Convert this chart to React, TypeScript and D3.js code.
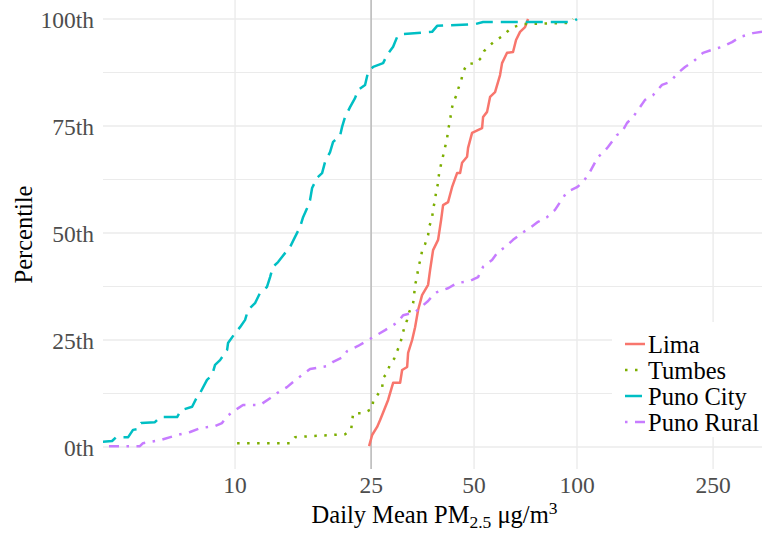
import React from "react";
import * as d3 from "d3";

// ---- data (PM2.5 value, percentile) ----
const limaPts: [number, number][] = [
  [24.66, 0.2], [25.17, 2.8], [26.03, 4.7], [26.56, 6.3], [28.03, 11.0], [28.99, 15.0], [30.39, 15.0],
  [30.8, 18.0], [31.86, 18.7], [32.07, 22.0], [32.95, 25.0], [33.61, 28.0], [34.3, 32.0], [35.23, 35.5],
  [36.69, 37.9], [37.19, 41.4], [37.94, 46.0], [39.24, 48.4], [40.04, 53.0], [40.58, 56.5], [41.97, 57.2],
  [43.11, 60.7], [44.59, 64.0], [45.51, 64.0], [46.12, 66.4], [47.69, 67.8], [48.02, 69.9], [49.33, 73.4],
  [52.77, 74.5], [53.13, 77.1], [54.57, 78.3], [55.69, 81.8], [57.59, 82.9], [59.56, 86.9], [60.37, 89.7],
  [62.43, 92.1], [65.0, 92.3], [66.33, 95.1], [68.14, 97.0], [70.48, 98.1], [71.92, 100],
];
const tumbesPts: [number, number][] = [
  [10.14, 0.9], [14.48, 0.9], [14.98, 2.3], [20.99, 3.0], [21.85, 4.0], [22.15, 7.9], [23.69, 7.9],
  [25.17, 8.9], [25.34, 10.7], [26.21, 12.4], [26.92, 13.8], [27.1, 16.1], [27.84, 17.3], [28.41, 19.4],
  [29.19, 20.6], [29.78, 22.4], [30.39, 24.1], [30.8, 25.9], [31.22, 27.8], [31.86, 29.7], [32.29, 31.5],
  [33.17, 33.6], [33.39, 35.5], [33.61, 37.9], [34.07, 39.7], [34.3, 41.8], [34.77, 43.5], [35.23, 45.8],
  [35.95, 47.4], [36.69, 49.5], [36.94, 51.4], [37.69, 53.5], [37.94, 55.6], [38.46, 57.7], [38.72, 59.6],
  [39.24, 61.7], [39.51, 64.0], [40.04, 66.1], [40.58, 68.0], [41.14, 70.1], [41.69, 72.0], [41.97, 74.1],
  [42.55, 76.2], [42.83, 78.3], [43.41, 80.4], [44.3, 82.0], [44.89, 83.6], [45.81, 85.5], [46.43, 87.6],
  [47.69, 89.5], [50.68, 89.7], [52.42, 90.9], [53.48, 92.5], [55.31, 93.7], [57.59, 94.9], [59.97, 95.8],
  [62.43, 97.0], [65.0, 98.1], [69.54, 98.8], [95.39, 99.1], [97.34, 100],
];
const punoCityPts: [number, number][] = [
  [4.03, 1.2], [4.37, 1.4], [4.49, 2.3], [4.87, 2.3], [5.03, 4.0], [5.2, 4.2], [5.31, 5.6], [5.83, 5.8],
  [6.04, 7.0], [6.77, 7.0], [6.95, 8.6], [7.49, 9.4], [7.74, 11.7], [7.9, 12.6],
  [8.28, 15.7], [8.57, 16.8], [8.74, 19.2], [9.04, 20.3], [9.48, 22.7], [9.54, 24.3], [10.0, 26.6],
  [10.34, 28.0], [10.7, 29.7], [10.91, 32.0], [11.44, 33.6], [11.83, 36.0], [12.4, 37.4], [12.66, 39.7],
  [12.91, 42.1], [13.36, 43.2], [14.0, 45.3], [14.48, 46.7], [14.98, 49.1], [15.49, 51.4], [15.81, 53.7],
  [16.24, 55.8], [16.57, 57.7], [16.8, 60.5], [17.37, 62.9], [17.97, 64.0], [18.33, 66.6], [18.96, 68.9],
  [19.35, 71.3], [20.28, 72.7], [20.56, 74.8], [20.97, 77.1], [21.69, 79.4], [22.43, 81.5], [22.89, 83.4],
  [24.0, 84.6], [24.49, 87.6], [25.34, 88.8], [27.1, 89.7], [27.84, 91.6], [28.99, 93.5], [29.78, 95.8],
  [31.01, 96.5], [37.69, 97.0], [38.99, 98.4], [50.34, 98.8], [53.13, 99.3], [97.3, 99.3], [100, 100],
];
const punoRuralPts: [number, number][] = [
  [4.0, 0.2], [5.27, 0.2], [5.38, 0.9], [6.04, 1.6], [6.77, 2.8], [7.39, 3.5], [7.9, 4.4], [8.74, 4.9],
  [9.16, 5.6], [9.48, 7.2], [10.14, 8.9], [10.55, 9.8], [11.83, 9.8], [12.66, 11.4], [13.27, 12.6],
  [14.19, 14.0], [14.78, 15.2], [15.7, 16.8], [16.57, 18.2], [18.58, 18.9], [19.35, 19.9], [20.69, 21.0],
  [21.26, 22.4], [22.89, 23.6], [24.5, 25.0], [26.03, 26.2], [27.47, 27.3], [29.98, 29.2], [31.01, 30.8],
  [33.61, 31.5], [35.23, 32.9], [36.69, 34.1], [37.94, 35.5], [38.98, 36.2], [41.97, 37.1], [44.59, 38.3],
  [48.67, 38.8], [51.37, 39.7], [53.13, 42.1], [56.44, 43.7], [58.76, 45.6], [61.6, 46.7], [65.0, 48.4],
  [69.07, 50.0], [72.89, 51.2], [76.92, 52.6], [81.72, 53.7], [86.23, 55.4], [89.18, 57.2], [93.49, 59.6],
  [100, 60.7], [104.13, 61.9], [109.14, 64.3], [115.19, 67.8], [119.12, 68.7], [123.2, 70.1],
  [130.89, 72.9], [135.37, 73.6], [140.01, 75.7], [145.77, 77.1], [152.84, 79.4], [158.06, 81.1],
  [166.83, 82.2], [177.22, 84.6], [187.06, 85.3], [197.39, 87.4], [206.94, 88.8], [218.37, 90.0],
  [233.57, 92.1], [248.1, 92.8], [265.46, 93.5], [283.95, 94.6], [299.66, 95.8], [327.05, 96.7],
  [347.47, 97.0], [380, 98.2], [450, 100],
];

const seriesNames = ["Lima", "Tumbes", "Puno City", "Puno Rural"];
const seriesColors = ["#F8766D", "#7CAE00", "#00BFC4", "#C77CFF"];
const seriesDash = ["", "2.5 7.5", "17 8", "2.5 7.5 10 7.5"];
const seriesData = [limaPts, tumbesPts, punoCityPts, punoRuralPts];

const xTicks = [10, 25, 50, 100, 250];
const yTicks = [0, 25, 50, 75, 100];
const yTickLabels = ["0th", "25th", "50th", "75th", "100th"];
const yMinor = [12.5, 37.5, 62.5, 87.5];
const refLine = 25;

const W = 762;
const H = 534;
const panel = { left: 103, right: 762, top: 0, bottom: 469 };
const FONT = "'Liberation Serif', 'Times New Roman', serif";

export default function App() {
  const x = d3.scaleLog().domain([4.11, 347.5]).range([panel.left, panel.right]);
  const y = d3.scaleLinear().domain([0, 100]).range([447, 19]);
  const line = d3
    .line<[number, number]>()
    .x((d) => x(d[0]))
    .y((d) => y(d[1]))
    .curve(d3.curveLinear);

  const legX = 612;
  const legY = 322;
  const rowH = 26;

  return (
    <svg width={W} height={H} style={{ position: "absolute", left: 0, top: 0, background: "#fff" }}>
      <defs>
        <clipPath id="panelClip">
          <rect x={panel.left} y={panel.top} width={panel.right - panel.left} height={panel.bottom - panel.top} />
        </clipPath>
      </defs>
      {/* grid */}
      <g>
        {yMinor.map((v) => (
          <line key={"ym" + v} x1={panel.left} x2={panel.right} y1={y(v)} y2={y(v)} stroke="#EBEBEB" strokeWidth={1} />
        ))}
        {yTicks.map((v) => (
          <line key={"y" + v} x1={panel.left} x2={panel.right} y1={y(v)} y2={y(v)} stroke="#EBEBEB" strokeWidth={1.4} />
        ))}
        {xTicks.map((v) => (
          <line key={"x" + v} x1={x(v)} x2={x(v)} y1={panel.top} y2={panel.bottom} stroke="#EBEBEB" strokeWidth={1.4} />
        ))}
      </g>
      {/* reference line */}
      <line x1={x(refLine)} x2={x(refLine)} y1={panel.top} y2={panel.bottom} stroke="#BEBEBE" strokeWidth={1.6} />
      {/* series */}
      <g clipPath="url(#panelClip)">
        {seriesData.map((d, i) => (
          <path
            key={seriesNames[i]}
            d={line(d) || ""}
            fill="none"
            stroke={seriesColors[i]}
            strokeWidth={2.5}
            strokeLinejoin="round"
            strokeDasharray={seriesDash[i] || undefined}
          />
        ))}
      </g>
      {/* axes labels */}
      <g fontFamily={FONT} fontSize={23.5} fill="#4D4D4D">
        {yTicks.map((v, i) => (
          <text key={"yl" + v} x={94} y={y(v)} dy="0.38em" textAnchor="end">
            {yTickLabels[i]}
          </text>
        ))}
        {xTicks.map((v) => (
          <text key={"xl" + v} x={x(v)} y={493} textAnchor="middle">
            {v}
          </text>
        ))}
      </g>
      <text
        fontFamily={FONT}
        fontSize={24.5}
        fill="#000"
        transform={`translate(32, ${(panel.top + panel.bottom) / 2}) rotate(-90)`}
        textAnchor="middle"
      >
        Percentile
      </text>
      <text fontFamily={FONT} fontSize={24.5} fill="#000" x={(panel.left + panel.right) / 2 + 2} y={523} textAnchor="middle">
        Daily Mean PM
        <tspan fontSize={17.5} dy={5}>2.5</tspan>
        <tspan dy={-5}> μg/m</tspan>
        <tspan fontSize={17.5} dy={-9}>3</tspan>
      </text>
      {/* legend */}
      <g>
        <rect x={legX} y={legY} width={W - legX} height={115} fill="#fff" />
        {seriesNames.map((n, i) => {
          const cy = legY + 22 + i * rowH;
          return (
            <g key={"leg" + n}>
              <line
                x1={625}
                x2={645}
                y1={cy}
                y2={cy}
                stroke={seriesColors[i]}
                strokeWidth={2.5}
                strokeDasharray={seriesDash[i] || undefined}
              />
              <text x={648} y={cy} dy="0.36em" fontFamily={FONT} fontSize={24.5} fill="#000">
                {n}
              </text>
            </g>
          );
        })}
      </g>
    </svg>
  );
}
